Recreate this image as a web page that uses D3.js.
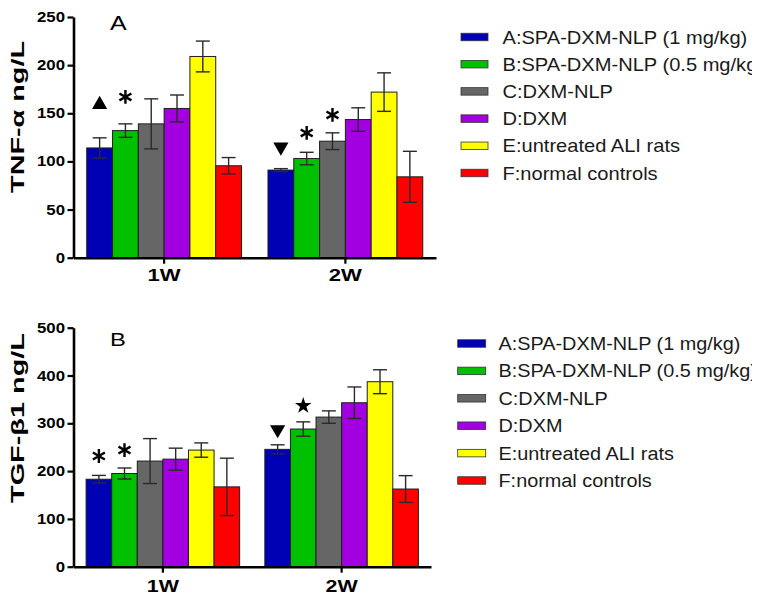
<!DOCTYPE html>
<html><head><meta charset="utf-8">
<script src="https://cdn.jsdelivr.net/npm/d3@7"></script>
<style>
body{margin:0;background:#fff;}
svg text{font-family:Arial,"Liberation Sans",sans-serif;}
</style>
</head><body>
<svg id="c" width="764" height="599"></svg>
<script>
// ---------------- DATA ----------------
const groups = ["1W", "2W"];
const seriesNames = ["A:SPA-DXM-NLP (1 mg/kg)", "B:SPA-DXM-NLP (0.5 mg/kg)", "C:DXM-NLP", "D:DXM", "E:untreated ALI rats", "F:normal controls"];
const seriesColors = ["#0000b4", "#00c000", "#666666", "#a200e0", "#ffff00", "#ff0000"];

const tnf1W = [114, 132, 139, 155, 209, 95.5];
const tnf1WErr = [10.5, 7, 26, 14, 16, 8.5];
const tnf2W = [91, 103, 121, 143.5, 172, 84];
const tnf2WErr = [1.5, 6.5, 8.7, 12.2, 20, 26.5];
const tnfTicks = [0, 50, 100, 150, 200, 250];

const tgf1W = [183, 195, 221, 225, 244, 167];
const tgf1WErr = [8, 11.5, 47, 23, 15, 60];
const tgf2W = [245.5, 288, 313, 343, 387, 162.5];
const tgf2WErr = [9.5, 15, 13, 33, 25, 28];
const tgfTicks = [0, 100, 200, 300, 400, 500];

// significance marks: group, series index, symbol, position (value units)
const tnfMarks = [
  {group: "1W", series: 0, symbol: "triangleUp", at: 159},
  {group: "1W", series: 1, symbol: "asterisk", at: 167},
  {group: "2W", series: 0, symbol: "triangleDown", at: 115},
  {group: "2W", series: 1, symbol: "asterisk", at: 129.6},
  {group: "2W", series: 2, symbol: "asterisk", at: 148.3}
];
const tgfMarks = [
  {group: "1W", series: 0, symbol: "asterisk", at: 231.6},
  {group: "1W", series: 1, symbol: "asterisk", at: 244},
  {group: "2W", series: 0, symbol: "triangleDown", at: 287},
  {group: "2W", series: 1, symbol: "star", at: 336.6}
];

// ---------------- DRAW ----------------
const svg = d3.select("#c");
svg.append("rect").attr("width", 764).attr("height", 599).attr("fill", "#fff");
svg.append("defs").append("clipPath").attr("id", "legclip")
  .append("rect").attr("x", 0).attr("y", 0).attr("width", 752).attr("height", 599);

function stretchedText(parent, x, y, str, opt) {
  const g = parent.append("g").attr("transform", `translate(${x},${y})` + (opt.rotate ? ` rotate(${opt.rotate})` : ""));
  const t = g.append("text").text(str)
    .attr("font-size", opt.size).attr("font-weight", opt.weight || "normal")
    .attr("text-anchor", opt.anchor || "start").attr("fill", opt.fill || "#000");
  let sx = opt.sx || 1;
  if (opt.width) sx = opt.width / t.node().getComputedTextLength();
  t.attr("transform", `scale(${sx},1)`);
  return sx;
}

function panel(cfg) {
  const g = svg.append("g");
  const y = d3.scaleLinear().domain([0, cfg.max]).range([cfg.y0, cfg.y1]);
  const x0 = d3.scaleBand().domain(groups).range([cfg.xl, cfg.xr]).paddingInner(cfg.pad).paddingOuter(cfg.pad / 2);
  const x1 = d3.scaleBand().domain(d3.range(seriesNames.length)).range([0, x0.bandwidth()]);

  groups.forEach((gr, gi) => {
    const means = cfg.means[gi], errs = cfg.errs[gi];
    const rows = means.map((m, i) => ({m, e: errs[i], i}));
    const gg = g.append("g").attr("transform", `translate(${x0(gr)},0)`);
    gg.selectAll("rect").data(rows).join("rect")
      .attr("x", d => x1(d.i)).attr("width", x1.bandwidth())
      .attr("y", d => y(d.m)).attr("height", d => y(0) - y(d.m))
      .attr("fill", d => seriesColors[d.i]).attr("stroke", "#1e1e1e").attr("stroke-width", 1);
    const eb = gg.selectAll("g.eb").data(rows).join("g").attr("class", "eb")
      .attr("stroke", "#2a2a2a").attr("stroke-width", 1.4);
    const cx = d => x1(d.i) + x1.bandwidth() / 2;
    eb.append("line").attr("x1", cx).attr("x2", cx).attr("y1", d => y(d.m + d.e)).attr("y2", d => y(d.m - d.e));
    eb.append("line").attr("x1", d => cx(d) - 7).attr("x2", d => cx(d) + 7).attr("y1", d => y(d.m + d.e)).attr("y2", d => y(d.m + d.e));
    eb.append("line").attr("x1", d => cx(d) - 7).attr("x2", d => cx(d) + 7).attr("y1", d => y(d.m - d.e)).attr("y2", d => y(d.m - d.e));
  });

  // marks
  cfg.marks.forEach(mk => {
    const cx = x0(mk.group) + x1(mk.series) + x1.bandwidth() / 2;
    const cy = y(mk.at);
    let path, rot = 0, fill = "#000", stroke = "none", sw = 0;
    if (mk.symbol === "asterisk") {
      path = d3.symbol(d3.symbolAsterisk, 135)(); fill = "none"; stroke = "#000"; sw = 2.4;
    } else if (mk.symbol === "star") {
      path = d3.symbol(d3.symbolStar, 85)();
    } else {
      path = d3.symbol(d3.symbolTriangle, 100)();
      if (mk.symbol === "triangleDown") rot = 180;
    }
    g.append("path").attr("d", path).attr("transform", `translate(${cx},${cy}) rotate(${rot})`)
      .attr("fill", fill).attr("stroke", stroke).attr("stroke-width", sw);
  });

  // y axis
  const ya = g.append("g").attr("transform", `translate(${cfg.xl},0)`)
    .call(d3.axisLeft(y).tickValues(cfg.ticks).tickSize(6).tickSizeOuter(0).tickFormat(d3.format("d")));
  ya.select(".domain").attr("stroke", "#000").attr("stroke-width", 2.6);
  ya.selectAll(".tick line").attr("stroke", "#000").attr("stroke-width", 2.2);
  ya.selectAll(".tick text").remove();
  cfg.ticks.forEach(t => stretchedText(g, cfg.xl - 8.5, y(t) + 5, String(t), {size: 14, weight: "bold", anchor: "end", sx: 1.2}));

  // x axis
  const xa = g.append("g").attr("transform", `translate(0,${cfg.y0})`)
    .call(d3.axisBottom(x0).tickSize(6).tickSizeOuter(0));
  xa.select(".domain").attr("stroke", "#000").attr("stroke-width", 2.6);
  xa.selectAll(".tick line").attr("stroke", "#000").attr("stroke-width", 2.2);
  xa.selectAll(".tick text").remove();
  groups.forEach(gr => stretchedText(g, x0(gr) + x0.bandwidth() / 2, cfg.y0 + cfg.xlabDy, gr, {size: cfg.xlabSize, weight: "bold", anchor: "middle", sx: 1.3}));

  // axis title
  stretchedText(g, cfg.titleX, cfg.titleY, cfg.title, {size: 19, weight: "bold", anchor: "middle", rotate: -90, width: cfg.titleLen});

  // panel letter
  stretchedText(g, cfg.letterX, cfg.letterY, cfg.letter, {size: cfg.letterSize, anchor: "start", sx: 1.25});

  // legend
  const L = cfg.legend;
  const lg = g.append("g").attr("clip-path", "url(#legclip)");
  let sx = null;
  seriesNames.forEach((name, i) => {
    const cy = L.y + i * L.dy;
    lg.append("rect").attr("x", L.x).attr("y", cy - L.sh / 2).attr("width", L.sw).attr("height", L.sh)
      .attr("fill", seriesColors[i]).attr("stroke", "#333").attr("stroke-width", 0.8);
    if (sx === null) {
      sx = stretchedText(lg, L.tx, cy + L.base, name, {size: L.size, fill: "#1a1a1a", width: L.width});
    } else {
      stretchedText(lg, L.tx, cy + L.base, name, {size: L.size, fill: "#1a1a1a", sx: sx});
    }
  });
}

panel({
  means: [tnf1W, tnf2W], errs: [tnf1WErr, tnf2WErr], ticks: tnfTicks, max: 250, marks: tnfMarks,
  y0: 257.7, y1: 17, xl: 73.5, xr: 436, pad: 0.146,
  xlabDy: 23.5, xlabSize: 17,
  title: "TNF-\u03b1  ng/L", titleX: 24, titleY: 117, titleLen: 152,
  letter: "A", letterX: 110, letterY: 30, letterSize: 20,
  legend: {x: 461, y: 37, dy: 27.2, sw: 27, sh: 7.5, tx: 502.5, size: 18, base: 6.5, width: 245}
});

panel({
  means: [tgf1W, tgf2W], errs: [tgf1WErr, tgf2WErr], ticks: tgfTicks, max: 500, marks: tgfMarks,
  y0: 566.7, y1: 327.7, xl: 73.5, xr: 431, pad: 0.141,
  xlabDy: 25, xlabSize: 16.5,
  title: "TGF-\u03b21 ng/L", titleX: 24, titleY: 418, titleLen: 170,
  letter: "B", letterX: 110, letterY: 345.5, letterSize: 19,
  legend: {x: 457.7, y: 343.5, dy: 27.4, sw: 28, sh: 7.5, tx: 498.5, size: 18, base: 6.5, width: 242}
});
</script>
</body></html>
